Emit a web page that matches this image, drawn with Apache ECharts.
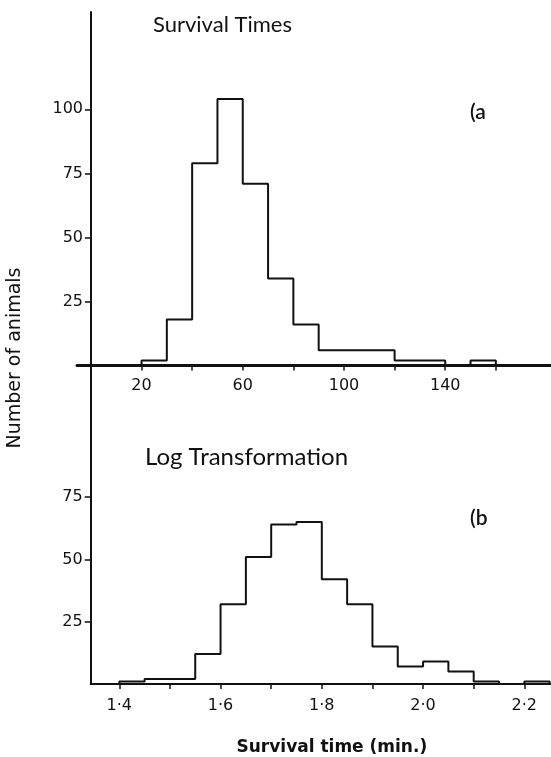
<!DOCTYPE html>
<html>
<head>
<meta charset="utf-8">
<script src="https://cdn.jsdelivr.net/npm/echarts@6/dist/echarts.min.js"></script>
<style>
  html, body { margin: 0; padding: 0; background: #ffffff; }
  #chart { width: 551px; height: 757px; }
</style>
</head>
<body>
<div id="chart"></div>
<script>
// (a) Survival times (min.): bin edges and number of animals in each bin
const timeEdges = [20, 30, 40, 50, 60, 70, 80, 90, 120, 140, 150, 160];
const timeCounts = [2, 18, 79, 104, 71, 34, 16, 6, 2, 0, 2];
const timeTicks = [20, 40, 60, 80, 100, 120, 140, 160];
const timeTickLabels = [20, 60, 100, 140];
const countTicksA = [25, 50, 75, 100];

// (b) Log transformation: bin edges on the log10 scale and counts
const logEdges = [1.40, 1.45, 1.50, 1.55, 1.60, 1.65, 1.70, 1.75, 1.80,
                  1.85, 1.90, 1.95, 2.00, 2.05, 2.10, 2.15, 2.20, 2.25];
const logCounts = [1, 2, 2, 12, 32, 51, 64, 65, 42, 32, 15, 7, 9, 5, 1, 0, 1];
const logTicks = [1.4, 1.5, 1.6, 1.7, 1.8, 1.9, 2.0, 2.1, 2.2];
const logTickLabels = [1.4, 1.6, 1.8, 2.0, 2.2];
const countTicksB = [25, 50, 75];

// Histogram outline: start on the baseline, one point per bin left edge,
// close back down to the baseline at the last right edge (drawn as a step line)
function outline(edges, counts) {
  const pts = [[edges[0], 0]];
  counts.forEach(function (c, i) { pts.push([edges[i], c]); });
  pts.push([edges[edges.length - 1], 0]);
  return pts;
}

const INK = '#111111';
const TITLE_FONT = 'Lato';
const AXIS_FONT = '"DejaVu Sans"';

const chart = echarts.init(document.getElementById('chart'), null, { renderer: 'canvas' });

const tickLabel = { color: INK, fontFamily: 'DejaVu Sans', fontSize: 16 };

chart.setOption({
  animation: false,
  backgroundColor: '#ffffff',
  grid: [
    { left: 77, right: 0, top: 12, height: 353.5 },
    { left: 90.7, right: 0, top: 365.5, height: 326 }
  ],
  xAxis: [
    {
      gridIndex: 0, type: 'value', min: -5.5, max: 181.8,
      splitLine: { show: false },
      axisLine: { onZero: true, lineStyle: { color: INK, width: 3 } },
      axisTick: { show: true, inside: false, length: 5, customValues: timeTicks,
                  lineStyle: { color: INK, width: 1.5 } },
      axisLabel: Object.assign({ margin: 12, customValues: timeTickLabels }, tickLabel)
    },
    {
      gridIndex: 1, type: 'value', min: 1.3435, max: 2.2527,
      splitLine: { show: false },
      axisLine: { onZero: false, lineStyle: { color: INK, width: 2 } },
      axisTick: { show: true, inside: false, length: 5, customValues: logTicks,
                  lineStyle: { color: INK, width: 1.5 } },
      axisLabel: Object.assign({
        margin: 14, customValues: logTickLabels,
        formatter: function (v) { return v.toFixed(1).replace('.', '\u00B7'); }
      }, tickLabel),
      name: 'Survival time (min.)',
      nameLocation: 'middle',
      nameGap: 55,
      nameTextStyle: { color: INK, fontFamily: 'DejaVu Sans', fontSize: 17, fontWeight: 'bold',
                       padding: [0, 0, 0, 22] }
    }
  ],
  yAxis: [
    {
      gridIndex: 0, type: 'value', min: 0, max: 138,
      splitLine: { show: false },
      axisLine: { onZero: true, lineStyle: { color: INK, width: 2 } },
      axisTick: { show: true, length: 6, customValues: countTicksA,
                  lineStyle: { color: INK, width: 1.5 } },
      axisLabel: Object.assign({ margin: -6, customValues: countTicksA }, tickLabel)
    },
    {
      gridIndex: 1, type: 'value', min: 0, max: 127.8,
      splitLine: { show: false },
      axisLine: { onZero: false, lineStyle: { color: INK, width: 2 } },
      axisTick: { show: true, length: 6, customValues: countTicksB,
                  lineStyle: { color: INK, width: 1.5 } },
      axisLabel: Object.assign({ margin: 8, customValues: countTicksB }, tickLabel)
    }
  ],
  series: [
    {
      type: 'line', xAxisIndex: 0, yAxisIndex: 0, step: 'end',
      data: outline(timeEdges, timeCounts),
      symbol: 'none', lineStyle: { color: INK, width: 2 }, z: 3
    },
    {
      type: 'line', xAxisIndex: 1, yAxisIndex: 1, step: 'end',
      data: outline(logEdges, logCounts),
      symbol: 'none', lineStyle: { color: INK, width: 2 }, z: 3
    }
  ],
  graphic: [
    { type: 'text', left: 153, top: 14,
      style: { text: 'Survival Times', fill: INK, font: '22px ' + TITLE_FONT } },
    { type: 'text', left: 470, top: 102,
      style: { text: '(a', fill: INK, font: '600 21px ' + TITLE_FONT } },
    { type: 'text', left: 145, top: 445,
      style: { text: 'Log Transformation', fill: INK, font: '24px ' + TITLE_FONT } },
    { type: 'text', left: 470, top: 508,
      style: { text: '(b', fill: INK, font: '600 21px ' + TITLE_FONT } },
    { type: 'text', x: 15, y: 358, rotation: Math.PI / 2,
      style: { text: 'Number of animals', fill: INK, font: '19px ' + AXIS_FONT,
               align: 'center', verticalAlign: 'middle' } }
  ]
});
</script>
</body>
</html>
